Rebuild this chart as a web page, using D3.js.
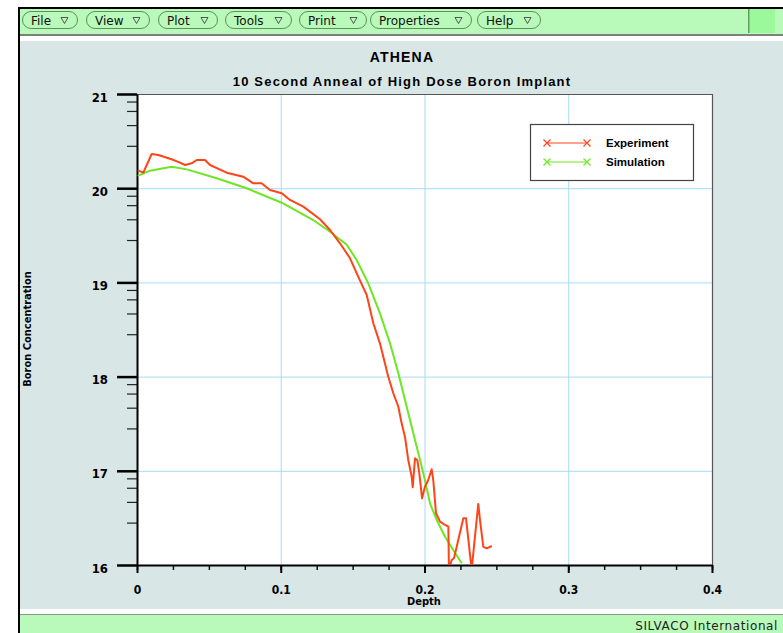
<!DOCTYPE html>
<html>
<head>
<meta charset="utf-8">
<style>
  body { margin: 0; background: #ffffff; }
  svg { display: block; }
</style>
</head>
<body>
<div id="main-viz"></div>
<script src="https://d3js.org/d3.v7.min.js"></script>
<script>
// boron profile, measured vs simulated (log10 concentration against depth)
var expDepth = [0.0005, 0.0044, 0.0102, 0.0148, 0.0241, 0.0299, 0.0334, 0.038, 0.0415, 0.0473,
  0.0508, 0.0624, 0.0739, 0.0809, 0.0867, 0.0925, 0.1007, 0.1064, 0.1157, 0.1273, 0.1343,
  0.1412, 0.1482, 0.1539, 0.1598, 0.1644, 0.169, 0.1748, 0.1783, 0.1818, 0.1841, 0.1864,
  0.1887, 0.1911, 0.1918, 0.1934, 0.195, 0.1964, 0.1983, 0.2003, 0.2026, 0.205, 0.2061,
  0.208, 0.2108, 0.2143, 0.2166, 0.217, 0.2189, 0.2205, 0.2235, 0.227, 0.2289, 0.2328,
  0.2344, 0.2374, 0.2386, 0.2409, 0.2433, 0.2468];
var expConc = [20.19, 20.165, 20.363, 20.352, 20.307, 20.271, 20.246, 20.264, 20.299, 20.299,
  20.246, 20.165, 20.122, 20.052, 20.052, 19.981, 19.946, 19.875, 19.804, 19.67, 19.556,
  19.415, 19.256, 19.061, 18.866, 18.566, 18.353, 17.999, 17.823, 17.68, 17.504, 17.362,
  17.115, 16.937, 16.825, 17.133, 17.115, 16.973, 16.708, 16.831, 16.902, 17.016, 16.902,
  16.549, 16.46, 16.425, 16.407, 15.95, 16.053, 16.071, 16.265, 16.496, 16.496, 15.95,
  16.194, 16.648, 16.478, 16.194, 16.177, 16.202];

var simDepth = [0.0005, 0.009, 0.0241, 0.0346, 0.0554, 0.0763, 0.1007, 0.1226, 0.1343, 0.1459,
  0.1528, 0.1609, 0.169, 0.176, 0.1818, 0.1876, 0.1922, 0.1969, 0.2003, 0.2038, 0.2085,
  0.2143, 0.22, 0.2259];
var simConc = [20.13, 20.186, 20.228, 20.2, 20.105, 19.999, 19.846, 19.662, 19.538, 19.4,
  19.238, 18.99, 18.672, 18.353, 18.035, 17.68, 17.398, 17.115, 16.902, 16.655, 16.478,
  16.3, 16.159, 16.018];

var xTicks = [0, 0.1, 0.2, 0.3, 0.4];
var xTickLabels = ["0", "0.1", "0.2", "0.3", "0.4"];
var yTicks = [16, 17, 18, 19, 20, 21];
var yMinorOffsets = [0.45, 0.67, 0.82, 0.92];

var W = 783, H = 633;
var plot = {left: 137, right: 712, top: 94, bottom: 565};

var svg = d3.select("#main-viz").append("svg")
  .attr("width", W).attr("height", H);

// window frame
svg.append("rect").attr("x", 18).attr("y", 7).attr("width", W - 18).attr("height", 2).attr("fill", "#000");
svg.append("rect").attr("x", 18).attr("y", 7).attr("width", 2).attr("height", H - 7).attr("fill", "#000");
svg.append("rect").attr("x", 20).attr("y", 9).attr("width", W - 20).attr("height", 25).attr("fill", "#b9f9b9");
svg.append("rect").attr("x", 20).attr("y", 34).attr("width", W - 20).attr("height", 2).attr("fill", "#7d807d");
svg.append("rect").attr("x", 20).attr("y", 41).attr("width", W - 20).attr("height", 568).attr("fill", "#d9e6e6");
svg.append("rect").attr("x", 20).attr("y", 614).attr("width", W - 20).attr("height", 1).attr("fill", "#8a9a8a");
svg.append("rect").attr("x", 20).attr("y", 615).attr("width", W - 20).attr("height", 18).attr("fill", "#b9f9b9");

// menu buttons
var menus = [["File", 22, 77], ["View", 86, 149], ["Plot", 158, 217], ["Tools", 225, 291],
  ["Print", 299, 366], ["Properties", 370, 471], ["Help", 477, 540]];
var mb = svg.append("g");
menus.forEach(function (m) {
  mb.append("rect").attr("x", m[1] + 0.5).attr("y", 11.5).attr("width", m[2] - m[1]).attr("height", 17)
    .attr("rx", 8.5).attr("fill", "#b9f9b9").attr("stroke", "#5f8f5f").attr("stroke-width", 1);
  mb.append("text").attr("x", m[1] + 9).attr("y", 24.5)
    .style("font-family", "DejaVu Sans, sans-serif").style("font-size", "12px").attr("fill", "#111")
    .text(m[0]);
  var tx = m[2] - 16;
  mb.append("path").attr("d", "M" + tx + ",17.5 L" + (tx + 7) + ",17.5 L" + (tx + 3.5) + ",23.5 Z")
    .attr("fill", "none").attr("stroke", "#333").attr("stroke-width", 0.8);
});
svg.append("rect").attr("x", 748).attr("y", 9).attr("width", 27).attr("height", 24).attr("fill", "#9bf99b");
svg.append("rect").attr("x", 748).attr("y", 9).attr("width", 1.5).attr("height", 24).attr("fill", "#5f9f5f");

svg.append("text").attr("x", 778).attr("y", 630).attr("text-anchor", "end")
  .style("font-family", "DejaVu Sans, sans-serif").style("font-size", "12px").attr("fill", "#222")
  .style("letter-spacing", "0.6px")
  .text("SILVACO International");

// scales
var x = d3.scaleLinear().domain([0, 0.4]).range([plot.left, plot.right]);
var y = d3.scaleLinear().domain([16, 21]).range([plot.bottom, plot.top]);

svg.append("rect").attr("x", plot.left).attr("y", plot.top)
  .attr("width", plot.right - plot.left).attr("height", plot.bottom - plot.top).attr("fill", "#fff");

// grid
var grid = svg.append("g").attr("stroke", "#a6dcf5").attr("stroke-width", 1);
xTicks.slice(1, -1).forEach(function (t) {
  grid.append("line").attr("x1", x(t) + 0.5).attr("x2", x(t) + 0.5).attr("y1", plot.top).attr("y2", plot.bottom);
});
yTicks.slice(1, -1).forEach(function (t) {
  grid.append("line").attr("x1", plot.left).attr("x2", plot.right).attr("y1", y(t) + 0.5).attr("y2", y(t) + 0.5);
});

// top/right frame
svg.append("path")
  .attr("d", "M" + plot.left + "," + (plot.top + 0.5) + " H" + (plot.right + 0.5) + " V" + plot.bottom)
  .attr("fill", "none").attr("stroke", "#555").attr("stroke-width", 1.2);

var tickFont = "DejaVu Sans Condensed, DejaVu Sans, sans-serif";

// x axis
var xMinor = d3.range(0, 0.4001, 0.025);
svg.append("g").attr("transform", "translate(0," + plot.bottom + ")")
  .call(d3.axisBottom(x).tickValues(xMinor).tickSize(5).tickSizeOuter(0).tickFormat(""))
  .call(function (g) { g.select(".domain").remove(); g.selectAll("line").attr("stroke", "#111").attr("stroke-width", 1.5); });
svg.append("g").attr("transform", "translate(0," + plot.bottom + ")")
  .call(d3.axisBottom(x).tickValues(xTicks).tickSize(8).tickSizeOuter(0).tickPadding(12)
    .tickFormat(function (d, i) { return xTickLabels[i]; }))
  .call(function (g) {
    g.select(".domain").attr("stroke", "#000").attr("stroke-width", 2);
    g.selectAll("line").attr("stroke", "#000").attr("stroke-width", 2);
    g.selectAll("text").style("font-family", tickFont).style("font-size", "12px")
      .style("font-weight", "bold").attr("fill", "#000");
  });

// y axis
var yMinor = [];
yTicks.slice(0, -1).forEach(function (t) {
  yMinorOffsets.forEach(function (o) { yMinor.push(t + o); });
});
svg.append("g").attr("transform", "translate(" + plot.left + ",0)")
  .call(d3.axisLeft(y).tickValues(yMinor).tickSize(10).tickSizeOuter(0).tickFormat(""))
  .call(function (g) {
    g.select(".domain").remove();
    g.selectAll("line").attr("stroke", "#222").attr("stroke-width", 1.2);
  });
svg.append("g").attr("transform", "translate(" + plot.left + ",0)")
  .call(d3.axisLeft(y).tickValues(yTicks).tickSize(20).tickSizeOuter(0).tickPadding(9).tickFormat(d3.format("d")))
  .call(function (g) {
    g.select(".domain").attr("stroke", "#000").attr("stroke-width", 2);
    g.selectAll("line").attr("stroke", "#000").attr("stroke-width", 2.5);
    g.selectAll("text").style("font-family", tickFont).style("font-size", "13px")
      .style("font-weight", "bold").attr("fill", "#000").attr("dy", "0.55em");
  });

// titles
var titleFont = "Liberation Sans, Arial, sans-serif";
svg.append("text").attr("x", 402).attr("y", 62).attr("text-anchor", "middle")
  .style("font-family", titleFont).style("font-size", "14px").style("font-weight", "bold")
  .style("letter-spacing", "1.2px")
  .text("ATHENA");
svg.append("text").attr("x", 402).attr("y", 86).attr("text-anchor", "middle")
  .style("font-family", titleFont).style("font-size", "13px").style("font-weight", "bold")
  .style("letter-spacing", "1.2px")
  .text("10 Second Anneal of High Dose Boron Implant");
svg.append("text").attr("x", 424).attr("y", 605).attr("text-anchor", "middle")
  .style("font-family", tickFont).style("font-size", "11px").style("font-weight", "bold")
  .text("Depth");
svg.append("text").attr("transform", "translate(31,329) rotate(-90)").attr("text-anchor", "middle")
  .style("font-family", tickFont).style("font-size", "11px").style("font-weight", "bold")
  .text("Boron Concentration");

// curves
svg.append("clipPath").attr("id", "clip").append("rect")
  .attr("x", plot.left).attr("y", plot.top).attr("width", plot.right - plot.left).attr("height", plot.bottom - plot.top);

var line = d3.line().x(function (d) { return x(d[0]); }).y(function (d) { return y(d[1]); });
var curves = svg.append("g").attr("clip-path", "url(#clip)");
curves.append("path").datum(d3.zip(simDepth, simConc)).attr("d", line)
  .attr("fill", "none").attr("stroke", "#6ee622").attr("stroke-width", 2);
curves.append("path").datum(d3.zip(expDepth, expConc)).attr("d", line)
  .attr("fill", "none").attr("stroke", "#ff4418").attr("stroke-width", 2).attr("stroke-linejoin", "round");

// legend
var lg = svg.append("g");
lg.append("rect").attr("x", 530.5).attr("y", 124.5).attr("width", 163).attr("height", 56)
  .attr("fill", "#fff").attr("stroke", "#444").attr("stroke-width", 1.2);
var series = [["Experiment", "#ff4418", 143], ["Simulation", "#6ee622", 162]];
series.forEach(function (s) {
  lg.append("line").attr("x1", 547).attr("x2", 587).attr("y1", s[2]).attr("y2", s[2])
    .attr("stroke", s[1]).attr("stroke-width", 1.2);
  [547, 587].forEach(function (px) {
    lg.append("path").attr("d", "M" + (px - 3.5) + "," + (s[2] - 3.5) + " L" + (px + 3.5) + "," + (s[2] + 3.5) +
      " M" + (px - 3.5) + "," + (s[2] + 3.5) + " L" + (px + 3.5) + "," + (s[2] - 3.5))
      .attr("stroke", s[1]).attr("stroke-width", 1.2);
  });
  lg.append("text").attr("x", 606).attr("y", s[2] + 4)
    .style("font-family", titleFont).style("font-size", "11.5px").style("font-weight", "bold")
    .text(s[0]);
});
</script>
</body>
</html>
